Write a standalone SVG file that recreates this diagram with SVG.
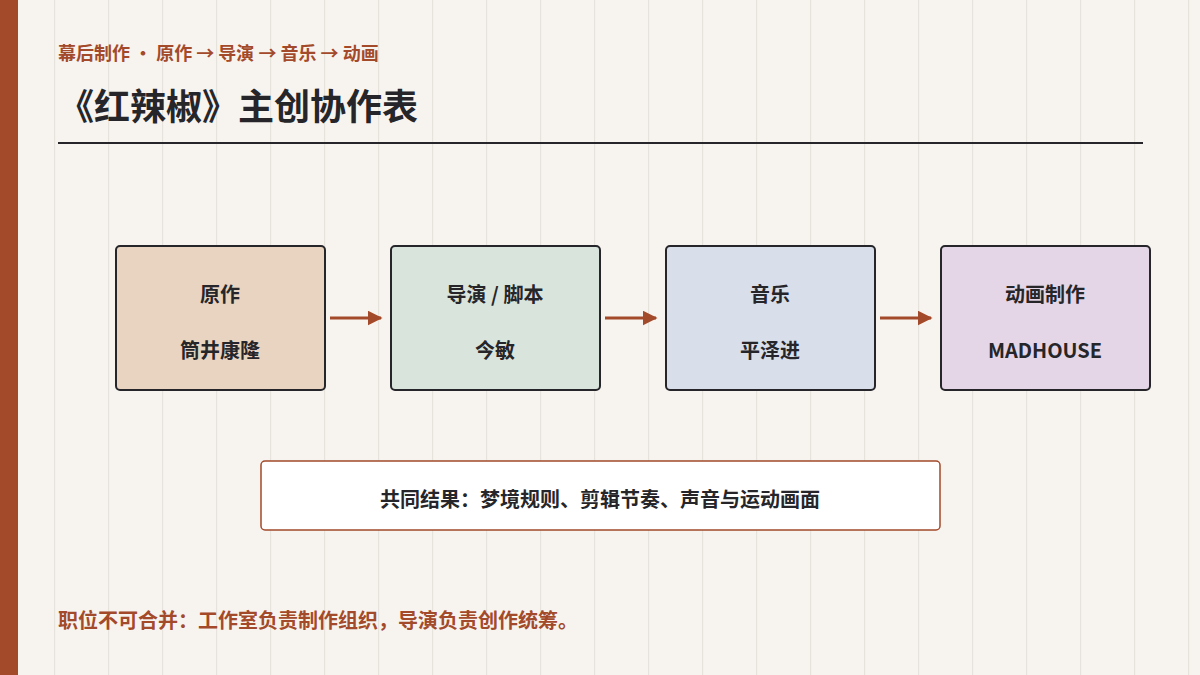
<svg xmlns="http://www.w3.org/2000/svg" width="1200" height="675" viewBox="0 0 1200 675">
<defs>
<pattern id="g" x="0" y="0" width="54" height="675" patternUnits="userSpaceOnUse"><rect x="0" y="0" width="1.2" height="675" fill="#e6e2dc"/></pattern>
<marker id="ah" viewBox="0 0 10 10" refX="9" refY="5" markerWidth="5" markerHeight="5" orient="auto"><path d="M0,0 L10,5 L0,10 z" fill="#a34a2a"/></marker>
</defs>
<style>
text{font-family:"Noto Sans CJK SC","Noto Sans",sans-serif;font-weight:bold;text-anchor:middle;fill:#26262a}
.n{stroke:#26262a;stroke-width:2}
.t{font-size:20px}
.c{stroke:#a34a2a;stroke-width:3;fill:none;marker-end:url(#ah)}
</style>
<rect width="1200" height="675" fill="#f7f3ef"/>
<rect width="1200" height="675" fill="url(#g)"/>
<rect width="18" height="675" fill="#a34a2a"/>
<text x="58" y="60" style="font-size:18px;text-anchor:start;fill:#a34a2a">幕后制作 · 原作 → 导演 → 音乐 → 动画</text>
<text x="58" y="120" style="font-size:36px;text-anchor:start">《红辣椒》主创协作表</text>
<rect x="58" y="142" width="1085" height="2" fill="#26262a"/>
<g id="n1"><rect class="n" x="116" y="246" width="209" height="144" rx="4" fill="#e8d4c0"/><text class="t" x="220" y="302">原作</text><text class="t" x="220" y="358">筒井康隆</text></g>
<g id="n2"><rect class="n" x="391" y="246" width="209" height="144" rx="4" fill="#d8e4dc"/><text class="t" x="495" y="302">导演 / 脚本</text><text class="t" x="495" y="358">今敏</text></g>
<g id="n3"><rect class="n" x="666" y="246" width="209" height="144" rx="4" fill="#d8dfea"/><text class="t" x="770" y="302">音乐</text><text class="t" x="770" y="358">平泽进</text></g>
<g id="n4"><rect class="n" x="941" y="246" width="209" height="144" rx="4" fill="#e4d6e6"/><text class="t" x="1045" y="302">动画制作</text><text class="t" x="1045" y="358">MADHOUSE</text></g>
<g id="connectors">
<line class="c" x1="330" y1="318" x2="381" y2="318"/>
<line class="c" x1="605" y1="318" x2="656" y2="318"/>
<line class="c" x1="880" y1="318" x2="931" y2="318"/>
</g>
<g id="result"><rect x="261" y="461" width="679" height="69" rx="4" fill="#ffffff" stroke="#a34a2a" stroke-width="1.5"/><text class="t" x="600" y="507">共同结果：梦境规则、剪辑节奏、声音与运动画面</text></g>
<text x="58" y="628" style="font-size:20px;text-anchor:start;fill:#a34a2a">职位不可合并：工作室负责制作组织，导演负责创作统筹。</text>
</svg>
